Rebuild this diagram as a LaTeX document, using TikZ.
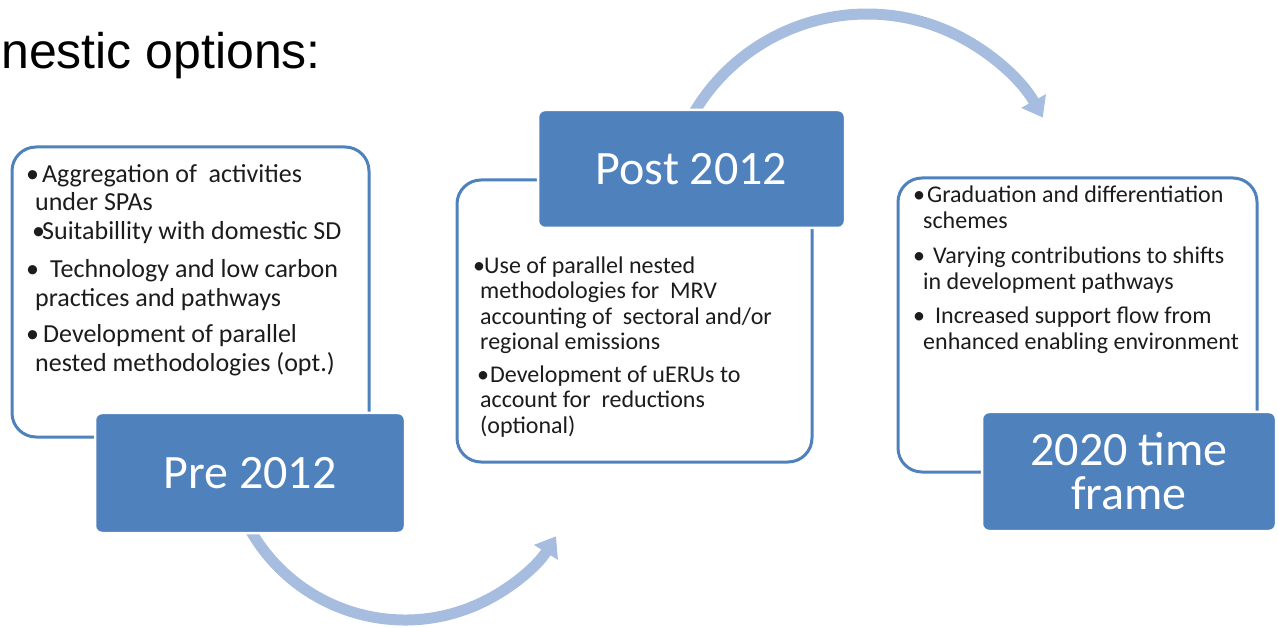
\documentclass[tikz,border=0pt]{standalone}
\usepackage{fontspec}
\setmainfont{Carlito}
\newfontfamily\titlefont{Liberation Sans}
\usetikzlibrary{arrows.meta}
\definecolor{accentblue}{RGB}{79,129,189}
\definecolor{flowblue}{RGB}{167,189,223}
\definecolor{bodytext}{RGB}{28,28,28}
% bullet set in a box of the given width (pt), text follows at its right edge
\newcommand\bul[1]{\makebox[#1pt][l]{•}}

\begin{document}
\begin{tikzpicture}[x=1pt,y=-1pt,
  panel/.style={draw=accentblue, line width=3pt, fill=white, rounded corners=24pt, inner sep=0pt},
  stage/.style={fill=accentblue, draw=white, line width=2.5pt, rounded corners=7pt,
    text=white, font=\fontsize{48}{44}\selectfont, align=center, inner sep=0pt},
  notes/.style={anchor=north west, inner sep=0pt, align=left, text=bodytext},
  flow/.style={draw=flowblue, line width=11pt, -{Triangle[width=27pt,length=19pt]}},
]
\clip (0,0) rectangle (1278,628);

% heading
\node[anchor=base west, inner sep=0pt, font=\titlefont\fontsize{50}{60}\selectfont]
  (heading) at (1,69) {nestic options:};

% curved flow arrows between the stages
\coordinate (flowAstart) at (243.7,517.2);
\coordinate (flowBstart) at (684.8,130.1);
\draw[flow] (flowAstart) arc[start angle=155, end angle=32, radius=178];
\draw[flow] (flowBstart) arc[start angle=205, end angle=331, radius=201];

% text panels
\node[panel, minimum width=357pt, minimum height=290pt] (prepanel)  at (190.5,292) {};
\node[panel, minimum width=355pt, minimum height=282pt] (postpanel) at (634.5,321) {};
\node[panel, minimum width=359pt, minimum height=294pt] (latepanel) at (1077.5,325) {};

% stage labels
\node[stage, minimum width=310pt, minimum height=120pt] (pre)  at (250,473)    {Pre 2012};
\node[stage, minimum width=307pt, minimum height=118pt] (post) at (691.5,169)  {Post 2012};
\node[stage, minimum width=294pt, minimum height=119pt] (late) at (1129,471.5) {2020 time\\frame};

% panel contents
\node[notes, font=\fontsize{26}{28.5}\selectfont] (prenotes) at (26,162.05) {%
\strut\bul{16}Aggregation of\ \ activities\\
\hspace*{9pt}under SPAs\\
\hspace*{6pt}\bul{10}Suitabillity with domestic SD\\[10pt]
\bul{24}Technology and low carbon\\
\hspace*{9pt}practices and pathways\\[8pt]
\bul{17}Development of parallel\\
\hspace*{9pt}nested methodologies (opt.)};

\node[notes, font=\fontsize{24}{25.5}\selectfont] (postnotes) at (473,255.15) {%
\strut\bul{11}Use of parallel nested\\
\hspace*{7pt}methodologies for\ \ MRV\\
\hspace*{7pt}accounting of\ \ sectoral and/or\\
\hspace*{7pt}regional emissions\\[7pt]
\hspace*{4pt}\bul{13}Development of uERUs to\\
\hspace*{7pt}account for\ \ reductions\\
\hspace*{7pt}(optional)};

\node[notes, font=\fontsize{24}{26.5}\selectfont] (latenotes) at (913,183.45) {%
\strut\bul{14}Graduation and differentiation\\
\hspace*{10pt}schemes\\[8pt]
\bul{20}Varying contributions to shifts\\
\hspace*{10pt}in development pathways\\[7pt]
\bul{22}Increased support flow from\\
\hspace*{10pt}enhanced enabling environment};
\end{tikzpicture}
\end{document}
